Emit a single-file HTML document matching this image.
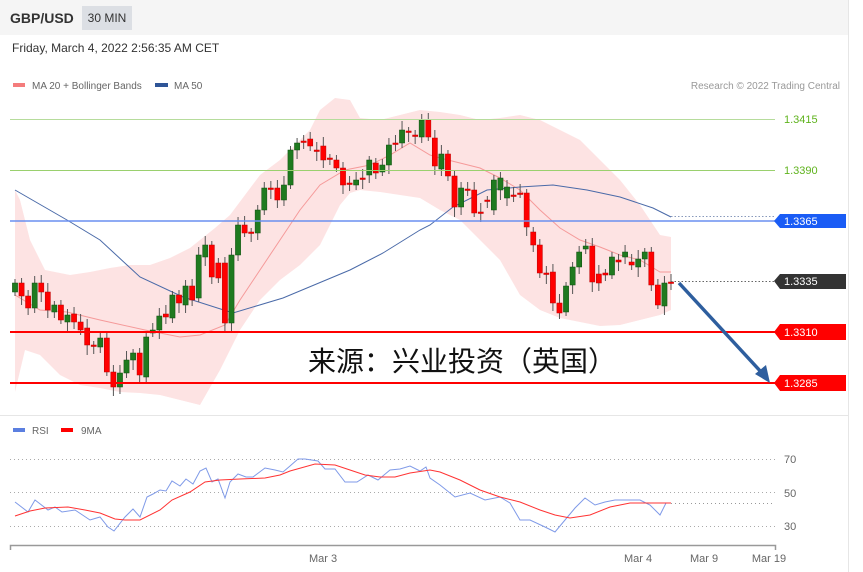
<!DOCTYPE html>
<html><head><meta charset="utf-8"><style>
body{margin:0;width:863px;height:572px;background:#fff;font-family:"Liberation Sans","Noto Sans CJK SC",sans-serif;overflow:hidden;position:relative}
svg{position:absolute;left:0;top:0}
</style></head><body>
<svg width="863" height="572" id="s" xmlns="http://www.w3.org/2000/svg" font-family="Liberation Sans, Noto Sans CJK SC, sans-serif">
<rect x="0" y="0" width="848" height="35" fill="#f5f5f5"/>
<line x1="848.5" y1="0" x2="848.5" y2="572" stroke="#e6e6e6"/>
<text x="10" y="23" font-size="14" font-weight="bold" fill="#333">GBP/USD</text>
<rect x="82" y="6" width="50" height="24" fill="#dcdfe4"/>
<text x="107" y="22" font-size="12" fill="#333" text-anchor="middle">30 MIN</text>
<text x="12" y="52" font-size="12" fill="#333">Friday, March 4, 2022 2:56:35 AM CET</text>
<rect x="13" y="83" width="12" height="4" fill="#f47c7c"/>
<text x="32" y="89" font-size="10" fill="#666">MA 20 + Bollinger Bands</text>
<rect x="155" y="83" width="13" height="4" fill="#2f5597"/>
<text x="174" y="89" font-size="10" fill="#666">MA 50</text>
<text x="840" y="89" font-size="10" fill="#999" text-anchor="end">Research © 2022 Trading Central</text>
<line x1="0" y1="415.5" x2="848" y2="415.5" stroke="#e6e6e6"/>
<g id="main"></g>
<line x1="10" y1="119.5" x2="775" y2="119.5" stroke="#b6dc9c"/>
<line x1="10" y1="170.5" x2="775" y2="170.5" stroke="#9ad06e"/>
<line x1="10" y1="221" x2="775" y2="221" stroke="#6a8ff0" stroke-width="1.5"/>
<line x1="10" y1="332" x2="775" y2="332" stroke="#f00" stroke-width="2"/>
<line x1="10" y1="383" x2="775" y2="383" stroke="#f00" stroke-width="2"/>
<line x1="671" y1="216.5" x2="775" y2="216.5" stroke="#8899bb" stroke-dasharray="1.5,2"/>
<line x1="671" y1="281.5" x2="775" y2="281.5" stroke="#666" stroke-dasharray="1.5,2"/>
<text x="784" y="123" font-size="11" fill="#5fb31d">1.3415</text>
<text x="784" y="174" font-size="11" fill="#5fb31d">1.3390</text>
<polygon points="774,221 780,214 846,214 846,228 780,228" fill="#1a5cf5"/>
<text x="784" y="225" font-size="11" fill="#fff">1.3365</text>
<polygon points="774,281 780,274 846,274 846,289 780,289" fill="#333"/>
<text x="784" y="285" font-size="11" fill="#fff">1.3335</text>
<polygon points="774,332 780,324 846,324 846,340 780,340" fill="#f00"/>
<text x="784" y="336" font-size="11" fill="#fff">1.3310</text>
<polygon points="774,383 780,375 846,375 846,391 780,391" fill="#f00"/>
<text x="784" y="387" font-size="11" fill="#fff">1.3285</text>
<line x1="679" y1="283" x2="762" y2="373" stroke="#2e5e9e" stroke-width="3.5"/>
<polygon points="770,383 755,374 766,365" fill="#2e5e9e"/>
<text x="308" y="371" font-size="28" fill="#111">来源：兴业投资（英国）</text>
<rect x="13" y="428" width="12" height="4" fill="#5b7fe0"/>
<text x="32" y="434" font-size="10" fill="#666">RSI</text>
<rect x="61" y="428" width="12" height="4" fill="#f00"/>
<text x="81" y="434" font-size="10" fill="#666">9MA</text>
<g stroke="#aaa" stroke-dasharray="1,3">
<line x1="10" y1="459.5" x2="775" y2="459.5"/><line x1="10" y1="492.5" x2="775" y2="492.5"/><line x1="10" y1="526.5" x2="775" y2="526.5"/></g>
<text x="784" y="463" font-size="11" fill="#666">70</text>
<text x="784" y="497" font-size="11" fill="#666">50</text>
<text x="784" y="530" font-size="11" fill="#666">30</text>
<line x1="671" y1="503.5" x2="775" y2="503.5" stroke="#999" stroke-dasharray="1,3"/>
<polyline fill="none" stroke="#7f9ae8" stroke-width="1" points="15,502 28,512 35,500 48,510 55,507 62,512 75,510 90,520 100,517 108,527 114,531 125,517 133,509 140,517 147,497 153,494 160,490 166,491 172,481 180,486 186,479 193,484 200,471 206,468 212,482 218,479 225,498 230,482 238,474 246,477 253,477 265,468 275,470 283,472 290,466 298,459 305,459 318,461 325,469 335,469 345,482 357,482 368,475 378,480 390,470 400,469 410,466 420,471 426,467 430,478 440,485 455,497 470,493 485,500 500,497 510,503 520,520 530,520 545,527 555,532 565,520 575,508 585,498 595,505 605,502 615,500 625,500 640,500 650,505 660,515 666,503 671,503"/>
<polyline fill="none" stroke="#f33" stroke-width="1" points="15,516 30,511 45,508 68,507 85,510 100,513 115,519 125,520 140,520 160,510 172,500 190,492 205,482 220,480 240,479 265,478 280,475 290,471 315,464 335,465 350,470 365,475 380,477 395,477 410,473 430,470 440,472 460,480 480,490 500,497 520,502 540,510 555,515 570,518 590,515 610,507 630,503 671,503"/>
<path d="M10.5,550 V545.5 H775.5 V550" fill="none" stroke="#999" stroke-width="1.5"/>
<g font-size="11" fill="#666" text-anchor="middle">
<text x="323" y="562">Mar 3</text><text x="638" y="562">Mar 4</text><text x="704" y="562">Mar 9</text><text x="769" y="562">Mar 19</text></g>
</svg>
<script>
var NS="http://www.w3.org/2000/svg",g=document.getElementById("main");
function el(t,a){var e=document.createElementNS(NS,t);for(var k in a)e.setAttribute(k,a[k]);g.appendChild(e);return e;}
var up="15,190 20,200 30,240 45,270 70,275 90,272 110,268 130,265 150,265 170,258 190,248 200,240 215,228 230,215 245,195 260,175 280,160 300,140 310,130 320,110 335,98 350,100 360,118 380,120 400,115 420,110 440,112 460,115 480,120 500,118 520,115 540,120 560,130 580,140 600,160 620,180 640,205 650,220 660,235 671,237";
var lo="671,310 660,315 640,320 620,325 600,326 580,322 560,318 540,310 520,295 500,260 480,240 460,220 440,210 420,198 400,195 380,192 360,190 350,193 340,205 320,245 300,265 280,280 260,300 240,330 220,370 200,405 180,400 160,395 140,393 120,392 100,388 80,385 60,375 40,355 25,350 15,392";
el("polygon",{points:up+" "+lo,fill:"#fde3e3"});
el("polyline",{points:"15,295 40,310 67,312 100,320 145,330 180,337 200,335 225,325 240,300 260,270 280,240 300,210 320,185 345,170 370,165 390,155 410,143 430,155 440,158 460,163 480,168 500,178 520,190 540,210 560,228 580,240 600,247 620,255 640,260 660,272 671,272",fill:"none",stroke:"#f59a9a","stroke-width":1});
el("polyline",{points:"15,190 67,220 100,240 140,277 183,297 233,313 283,298 350,270 383,253 420,230 430,225 453,207 487,190 520,187 553,185 587,190 620,197 653,208 671,217",fill:"none",stroke:"#4a6aa8","stroke-width":1});
var c=[[292,283],[283,296],[296,308],[308,283],[283,292],[292,310],[312,305],[305,320],[322,315],[314,322],[322,330],[328,345],[345,346],[347,338],[338,372],[372,387],[387,373],[373,360],[360,353],[353,375],[377,337],[333,330],[330,316],[314,317],[318,295],[295,303],[305,286],[286,300],[298,255],[257,245],[245,277],[263,278],[263,323],[323,255],[255,225],[225,233],[232,233],[233,210],[210,188],[188,189],[188,200],[200,185],[185,150],[150,143],[141,142],[139,146],[150,151],[146,160],[158,159],[160,168],[168,185],[183,184],[185,180],[178,179],[175,160],[163,173],[172,165],[165,145],[143,144],[143,130],[131,132],[135,136],[137,120],[120,137],[138,166],[169,154],[154,176],[176,207],[207,188],[189,190],[190,213],[212,213],[200,201],[210,180],[190,178],[198,187],[195,196],[193,194],[193,227],[232,245],[245,273],[273,274],[272,303],[303,313],[312,286],[285,267],[267,252],[249,246],[246,282],[274,283],[273,275],[275,257],[260,262],[257,252],[262,265],[267,259],[259,252],[252,285],[285,305],[306,283],[282,283]];
for(var i=0;i<c.length;i++){var x=15+i*6.56,o=c[i][0],cl=c[i][1],t=Math.min(o,cl),b=Math.max(o,cl);
var h=t-4-(i*7%6),l=b+4+(i*5%7);
el("line",{x1:x,y1:h,x2:x,y2:l,stroke:"#555","stroke-width":1});
el("rect",{x:x-2.6,y:t,width:5.2,height:Math.max(b-t,1.5),fill:cl<o?"#1f7a1f":(cl>o?"#f00":"#1f7a1f"),stroke:cl<o?"#0d4d0d":"#b00","stroke-width":0.5});}
</script>
</body></html>
